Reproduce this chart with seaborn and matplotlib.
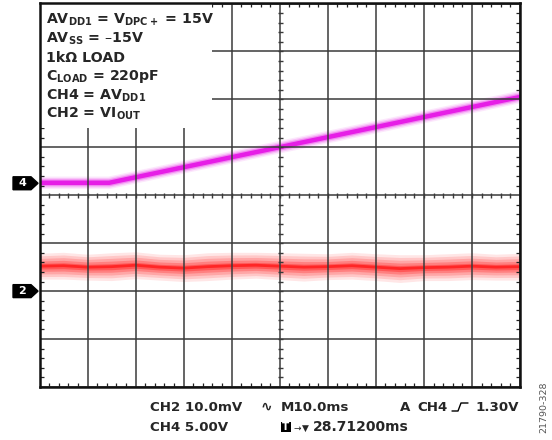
import numpy as np
import pandas as pd
import matplotlib
matplotlib.use('Agg')
import matplotlib.pyplot as plt
import matplotlib.transforms as mtransforms
from matplotlib.patches import Polygon, Rectangle
from matplotlib.lines import Line2D
import seaborn as sns

# ---- data (scope divisions: 10 horizontal, 8 vertical, 0 = screen centre) ----
ch4_t = [0.0, 1.45, 10.0]
ch4_v = [0.26, 0.26, 2.05]

ch2_t = [0.0, 0.5, 1.0, 1.5, 2.0, 2.5, 3.0, 3.5, 4.0, 4.5, 5.0,
         5.5, 6.0, 6.5, 7.0, 7.5, 8.0, 8.5, 9.0, 9.5, 10.0]
ch2_v = [-1.48, -1.47, -1.50, -1.49, -1.46, -1.50, -1.52, -1.49, -1.47, -1.46, -1.48,
         -1.50, -1.49, -1.47, -1.50, -1.53, -1.51, -1.50, -1.48, -1.50, -1.49]
ch2_spread = [0.27, 0.28, 0.27, 0.29, 0.28, 0.27, 0.28, 0.29, 0.28, 0.27, 0.28,
              0.29, 0.27, 0.28, 0.28, 0.29, 0.27, 0.28, 0.28, 0.27, 0.28]

ch4_marker = 0.25
ch2_marker = -2.0

setting_lines = [
    r"AV$_{\mathbf{DD1}}$ = V$_{\mathbf{DPC+}}$ = 15V",
    r"AV$_{\mathbf{SS}}$ = –15V",
    "1kΩ LOAD",
    r"C$_{\mathbf{LOAD}}$ = 220pF",
    r"CH4 = AV$_{\mathbf{DD1}}$",
    r"CH2 = VI$_{\mathbf{OUT}}$",
]

sns.set_style('white')
plt.rcParams['font.family'] = ['DejaVu Sans']
plt.rcParams['mathtext.fontset'] = 'dejavusans'

W, H = 552, 440
fig = plt.figure(figsize=(W / 100, H / 100), dpi=100)
left, right, top, bottom = 39.5, 520, 3.5, 387
ax = fig.add_axes([left / W, 1 - bottom / H, (right - left) / W, (bottom - top) / H])

# CH4 trace (magenta with glow)
df4 = pd.DataFrame({'t': ch4_t, 'v': ch4_v})
for lw, a in [(9, 0.10), (7, 0.18), (5, 0.35), (3.2, 1.0)]:
    sns.lineplot(data=df4, x='t', y='v', ax=ax, color='#e61ee6', lw=lw, alpha=a,
                 zorder=1.5, solid_capstyle='butt')

# CH2 trace (noisy red band)
df2 = pd.DataFrame({'t': ch2_t, 'v': ch2_v, 's': ch2_spread})
for frac, a in [(1.0, 0.10), (0.8, 0.14), (0.6, 0.18), (0.4, 0.25), (0.22, 0.35)]:
    ax.fill_between(df2['t'], df2['v'] - frac * df2['s'], df2['v'] + frac * df2['s'],
                    color='#ff1010', alpha=a, lw=0, zorder=1.2)
sns.lineplot(data=df2, x='t', y='v', ax=ax, color='#ff1a1a', lw=2.0, alpha=0.8, zorder=1.3)

# graticule
ax.set_xlim(0, 10)
ax.set_ylim(-4, 4)
ax.set_xticks(range(0, 11))
ax.set_yticks(range(-4, 5))
ax.set_xticks(np.arange(0, 10.01, 0.2), minor=True)
ax.set_yticks(np.arange(-4, 4.01, 0.2), minor=True)
ax.set_xlabel('')
ax.set_ylabel('')
ax.set_axisbelow(False)
ax.grid(True, which='major', color='#3a3a3a', lw=1.1)
ax.tick_params(which='major', length=0, labelbottom=False, labelleft=False)
ax.tick_params(which='minor', direction='in', length=2.6, width=0.9, color='#222222',
               top=True, right=True, bottom=True, left=True)
for sp in ax.spines.values():
    sp.set_visible(True)
    sp.set_color('#111111')
    sp.set_linewidth(1.8)
    sp.set_zorder(5)

# centre-line ticks
minor_x = np.arange(0, 10.01, 0.2)
minor_y = np.arange(-4, 4.01, 0.2)
ax.plot(minor_x, np.zeros_like(minor_x), ls='', marker='|', ms=3.6, mew=1.0, color='#3a3a3a', zorder=2.6)
ax.plot(np.full_like(minor_y, 5.0), minor_y, ls='', marker='_', ms=3.6,
        mew=1.0, color='#3a3a3a', zorder=2.6)

# settings box
ax.add_patch(Rectangle((0, 1.4), 3.6, 2.6, facecolor='white', edgecolor='none', zorder=3))
for i, s in enumerate(setting_lines):
    fig.text(46 / W, 1 - (24 + 18.8 * i) / H, s, fontsize=10.2, fontweight='bold',
             ha='left', va='baseline', zorder=6)

# channel markers
trans = mtransforms.blended_transform_factory(ax.transAxes, ax.transData)
for lvl, lab in [(ch4_marker, '4'), (ch2_marker, '2')]:
    h = 0.135
    x0, x1, x2 = -0.0551, -0.0177, -0.003
    poly = Polygon([(x0, lvl - h), (x1, lvl - h), (x2, lvl), (x1, lvl + h), (x0, lvl + h)],
                   closed=True, transform=trans, facecolor='black', edgecolor='black',
                   clip_on=False, zorder=6)
    ax.add_patch(poly)
    ax.text(-0.0364, lvl, lab, transform=trans, color='white', fontsize=8, fontweight='bold',
            ha='center', va='center', zorder=7)

# readouts
def ftext(px, py, s, **kw):
    kw.setdefault('fontsize', 9.6)
    kw.setdefault('fontweight', 'bold')
    kw.setdefault('ha', 'left')
    fig.text(px / W, 1 - py / H, s, va='baseline', **kw)

ftext(150, 411, 'CH2 10.0mV')
ftext(150, 431, 'CH4 5.00V')
ftext(261, 411, '∿', fontsize=10)
ftext(281, 411, 'M10.0ms')
ftext(400, 411, 'A')
ftext(417, 411, 'CH4')
ftext(519, 411, '1.30V', ha='right')
ftext(293, 431, '→', fontsize=6.5, fontweight='normal')
ftext(302, 431, '▼', fontsize=6.5, fontweight='normal')
ftext(313, 431, '28.71200ms', fontsize=10)

# trigger-edge glyph
edge = [(452, 411), (458, 411), (461, 403), (468, 403)]
fig.add_artist(Line2D([p[0] / W for p in edge], [1 - p[1] / H for p in edge],
                      transform=fig.transFigure, color='black', lw=1.0))
# T box
fig.add_artist(Rectangle((281 / W, 1 - 432 / H), 10 / W, 10 / H, transform=fig.transFigure,
                         facecolor='black', edgecolor='none'))
fig.text(286 / W, 1 - 427 / H, 'T', color='white', fontsize=7.5, fontweight='bold',
         ha='center', va='center')

fig.text(544 / W, 1 - 407 / H, '21790-328', rotation=90, fontsize=6.8, color='#555555',
         ha='center', va='center')

fig.savefig('out.png', dpi=100)
